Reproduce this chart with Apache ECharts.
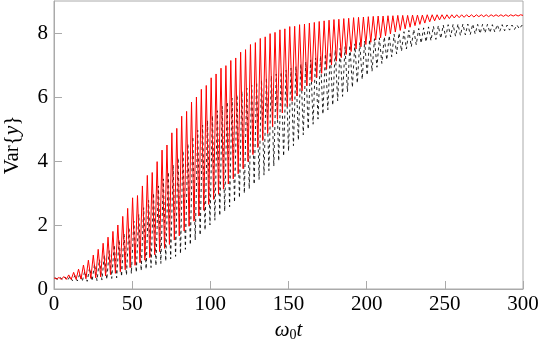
<!DOCTYPE html>
<html>
<head>
<meta charset="utf-8">
<script src="https://cdn.jsdelivr.net/npm/echarts@6/dist/echarts.min.js"></script>
<style>
  html, body { margin: 0; padding: 0; background: #fff; }
  #chart { width: 540px; height: 357px; }
</style>
</head>
<body>
<div id="chart"></div>
<script>
// samples are taken every half period (period ~ pi), peaks and troughs alternate
var STEP = Math.PI / 2;
var xTicks = [0, 50, 100, 150, 200, 250, 300];
var yTicks = [0, 2, 4, 6, 8];

// red (solid) curve: maxima and minima
var redPeaks = [
  0.35, 0.36, 0.39, 0.44, 0.52, 0.62, 0.75, 0.9, 1.06, 1.24,
  1.43, 1.62, 1.8, 2.0, 2.27, 2.52, 2.85, 2.92, 3.22, 3.55,
  3.64, 3.98, 4.34, 4.5, 4.88, 5.02, 5.4, 5.55, 5.84, 6.0,
  6.24, 6.36, 6.6, 6.72, 6.9, 6.98, 7.14, 7.22, 7.4, 7.48,
  7.64, 7.7, 7.83, 7.88, 7.98, 8.02, 8.1, 8.13, 8.2, 8.21,
  8.26, 8.28, 8.31, 8.33, 8.36, 8.38, 8.4, 8.42, 8.43, 8.45,
  8.46, 8.48, 8.49, 8.5, 8.51, 8.52, 8.53, 8.53, 8.54, 8.54,
  8.55, 8.55, 8.55, 8.56, 8.56, 8.56, 8.57, 8.57, 8.57, 8.57,
  8.57, 8.57, 8.57, 8.57, 8.57, 8.57, 8.57, 8.57, 8.57, 8.57,
  8.57, 8.57, 8.57, 8.57, 8.57, 8.57
];
var redTroughs = [
  0.31, 0.3, 0.3, 0.3, 0.3, 0.31, 0.32, 0.33, 0.35, 0.38,
  0.41, 0.45, 0.49, 0.54, 0.6, 0.67, 0.74, 0.82, 0.9, 0.98,
  1.07, 1.17, 1.27, 1.39, 1.53, 1.66, 1.81, 1.96, 2.12, 2.28,
  2.46, 2.64, 2.8, 2.96, 3.12, 3.28, 3.44, 3.6, 3.76, 3.98,
  4.2, 4.42, 4.64, 4.86, 5.08, 5.3, 5.5, 5.7, 5.87, 6.03,
  6.19, 6.35, 6.48, 6.61, 6.74, 6.87, 7.0, 7.12, 7.23, 7.33,
  7.42, 7.5, 7.57, 7.64, 7.71, 7.78, 7.85, 7.91, 7.97, 8.03,
  8.08, 8.13, 8.18, 8.23, 8.27, 8.31, 8.35, 8.38, 8.41, 8.43,
  8.45, 8.47, 8.48, 8.49, 8.5, 8.5, 8.51, 8.51, 8.51, 8.52,
  8.52, 8.52, 8.52, 8.53, 8.53
];
var redEnd = 8.55;

// black (dashed) curve
var blackShift = 0.8;
var blackPeaks = [
  0.35, 0.36, 0.37, 0.39, 0.42, 0.47, 0.55, 0.66, 0.78, 0.92,
  1.06, 1.2, 1.38, 1.54, 1.73, 1.92, 2.12, 2.33, 2.54, 2.77,
  3.0, 3.22, 3.44, 3.66, 3.88, 4.1, 4.32, 4.54, 4.76, 4.96,
  5.12, 5.27, 5.42, 5.57, 5.71, 5.85, 5.96, 6.07, 6.18, 6.28,
  6.37, 6.46, 6.53, 6.6, 6.66, 6.72, 6.78, 6.84, 6.9, 6.96,
  7.03, 7.1, 7.16, 7.22, 7.29, 7.35, 7.41, 7.47, 7.52, 7.57,
  7.62, 7.66, 7.7, 7.75, 7.79, 7.82, 7.85, 7.88, 7.92, 7.96,
  8.0, 8.04, 8.08, 8.11, 8.14, 8.16, 8.19, 8.21, 8.23, 8.25,
  8.26, 8.27, 8.28, 8.28, 8.28, 8.28, 8.27, 8.27, 8.27, 8.26,
  8.26, 8.26, 8.25, 8.25, 8.25, 8.24
];
var blackTroughs = [
  0.3, 0.29, 0.27, 0.26, 0.25, 0.24, 0.24, 0.25, 0.26, 0.28,
  0.3, 0.33, 0.35, 0.39, 0.43, 0.48, 0.52, 0.57, 0.62, 0.67,
  0.73, 0.8, 0.87, 0.94, 1.02, 1.1, 1.24, 1.38, 1.53, 1.68,
  1.84, 2.0, 2.15, 2.29, 2.43, 2.57, 2.71, 2.85, 2.99, 3.13,
  3.27, 3.42, 3.56, 3.7, 3.84, 4.0, 4.15, 4.31, 4.48, 4.65,
  4.82, 4.99, 5.15, 5.31, 5.46, 5.6, 5.74, 5.88, 6.02, 6.16,
  6.3, 6.43, 6.55, 6.68, 6.8, 6.93, 7.05, 7.16, 7.26, 7.35,
  7.43, 7.5, 7.57, 7.63, 7.68, 7.72, 7.76, 7.8, 7.83, 7.86,
  7.88, 7.9, 7.92, 7.94, 7.95, 7.97, 7.98, 8.0, 8.01, 8.03,
  8.05, 8.07, 8.09, 8.11, 8.13
];
var blackEnd = 8.2;

function buildSeries(peaks, troughs, shift, endValue) {
  var pts = [];
  for (var k = 0; k < peaks.length; k++) {
    pts.push([2 * k * STEP + shift, peaks[k]]);
    if (k < troughs.length) pts.push([(2 * k + 1) * STEP + shift, troughs[k]]);
  }
  pts.push([300, endValue]);
  return pts;
}

var axisGray = '#aaaaaa';
var serifFont = 'Liberation Serif';

var chart = echarts.init(document.getElementById('chart'));
chart.setOption({
  animation: false,
  backgroundColor: '#fff',
  textStyle: { fontFamily: serifFont },
  grid: {
    left: 54, right: 17, top: 1, bottom: 68,
    containLabel: false, outerBoundsMode: 'none',
    show: true, borderColor: axisGray, borderWidth: 1
  },
  xAxis: {
    type: 'value', min: xTicks[0], max: xTicks[xTicks.length - 1], interval: 50,
    name: '{i|ω}{s|0}{i|t}',
    nameLocation: 'middle', nameGap: 15,
    nameTextStyle: {
      fontFamily: serifFont,
      rich: {
        i: { fontFamily: serifFont, fontStyle: 'italic', fontSize: 21, color: '#000', lineHeight: 24 },
        s: { fontFamily: serifFont, fontSize: 14, color: '#000', lineHeight: 13, verticalAlign: 'bottom' }
      }
    },
    axisLine: { show: true, lineStyle: { color: axisGray } },
    axisTick: { show: true, inside: true, length: 8, lineStyle: { color: axisGray } },
    axisLabel: { fontFamily: serifFont, fontSize: 21, color: '#000', margin: 5 },
    splitLine: { show: false }
  },
  yAxis: {
    type: 'value', min: yTicks[0], max: 9, interval: 2,
    name: 'Var{{i|y}}',
    nameLocation: 'middle', nameGap: 31,
    nameTextStyle: {
      fontFamily: serifFont, fontSize: 21, color: '#000',
      rich: { i: { fontFamily: serifFont, fontStyle: 'italic', fontSize: 21, color: '#000' } }
    },
    axisLine: { show: true, lineStyle: { color: axisGray } },
    axisTick: { show: true, inside: true, length: 8, lineStyle: { color: axisGray } },
    axisLabel: { fontFamily: serifFont, fontSize: 21, color: '#000', margin: 6, showMaxLabel: false },
    splitLine: { show: false }
  },
  series: [
    {
      type: 'line', name: 'black',
      data: buildSeries(blackPeaks, blackTroughs, blackShift, blackEnd),
      showSymbol: false, symbol: 'none',
      lineStyle: { color: '#000000', width: 1, type: [3, 3], opacity: 0.85 },
      z: 2
    },
    {
      type: 'line', name: 'red',
      data: buildSeries(redPeaks, redTroughs, 0, redEnd),
      showSymbol: false, symbol: 'none',
      lineStyle: { color: '#ff0000', width: 1 },
      z: 3
    }
  ]
});
</script>
</body>
</html>
